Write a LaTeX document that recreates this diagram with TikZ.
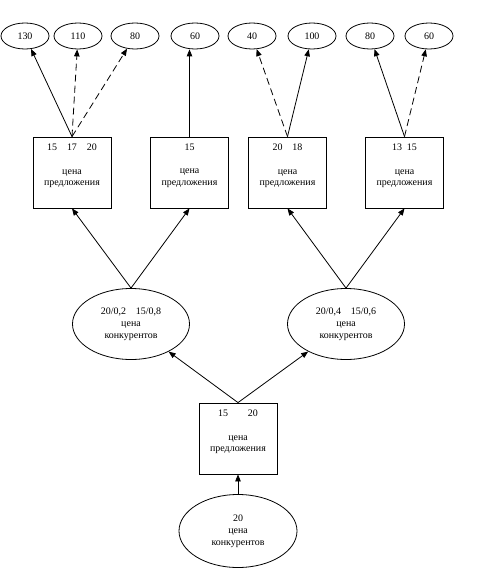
\documentclass[tikz,border=0pt]{standalone}
\usepackage{fontspec}
\setmainfont{Liberation Serif}
\tikzstyle{price}=[ellipse,draw,minimum width=48bp,minimum height=26bp,inner sep=0pt]
\tikzstyle{offer}=[rectangle,draw,minimum width=78bp,minimum height=71bp,align=center,inner sep=0pt]
\tikzstyle{rival}=[ellipse,draw,minimum width=117bp,minimum height=71bp,align=center,inner sep=0pt]
\tikzstyle{edge} = [draw,-{Triangle[length=7bp,width=5.5bp]}]
\tikzstyle{edge2} = [edge,dash pattern=on 7bp off 4bp]
\usetikzlibrary{shapes.geometric,arrows.meta,positioning}
\begin{document}
\begin{tikzpicture}[x=1bp,y=-1bp,line width=0.8bp,font=\fontsize{10}{12}\selectfont]
\useasboundingbox (0,0) rectangle (481,577);
% top row of prices
\node[price] (1) at (25,36) {130};
\node[price] (2) at (78,36) {110};
\node[price] (3) at (135,36) {80};
\node[price] (4) at (195,36) {60};
\node[price] (5) at (252,36) {40};
\node[price] (6) at (312,36) {100};
\node[price] (7) at (370,36) {80};
\node[price] (8) at (429,36) {60};

% offer boxes
\node[offer] (11) at (72,172.5) {15\quad 17\quad 20\\\strut\\цена\\предложения\\\strut};
\node[offer] (12) at (189.5,172.5) {15\\\strut\\цена\\предложения\\\strut};
\node[offer] (13) at (287.5,172.5) {20\quad 18\\\strut\\цена\\предложения\\\strut};
\node[offer] (14) at (404.5,172.5) {13\enspace 15\\\strut\\цена\\предложения\\\strut};

% competitors
\node[rival] (21) at (131,324) {20/0,2\quad 15/0,8\\цена\\конкурентов};
\node[rival] (22) at (346,324) {20/0,4\quad 15/0,6\\цена\\конкурентов};

\node[offer] (31) at (238,438.5) {15\qquad 20\\\strut\\цена\\предложения\\\strut};
\node[rival,minimum width=118bp,minimum height=73bp] (41) at (238,531) {20\\цена\\конкурентов};

 \path[edge] (11.north) -- (1);
 \path[edge2] (11.north) -- (2);
 \path[edge2] (11.north) -- (3);
 \path[edge] (12.north) -- (12.north |- 4.south);
 \path[edge2] (13.north) -- (5);
 \path[edge] (13.north) -- (6);
 \path[edge] (14.north) -- (7);
 \path[edge2] (14.north) -- (8);

 \path[edge] (21.north) -- (11.south);
 \path[edge] (21.north) -- (12.south);
 \path[edge] (22.north) -- (13.south);
 \path[edge] (22.north) -- (14.south);

 \path[edge] (31.north) -- (21);
 \path[edge] (31.north) -- (22);
 \path[edge] (41.north) -- (31.south);
\end{tikzpicture}
\end{document}
